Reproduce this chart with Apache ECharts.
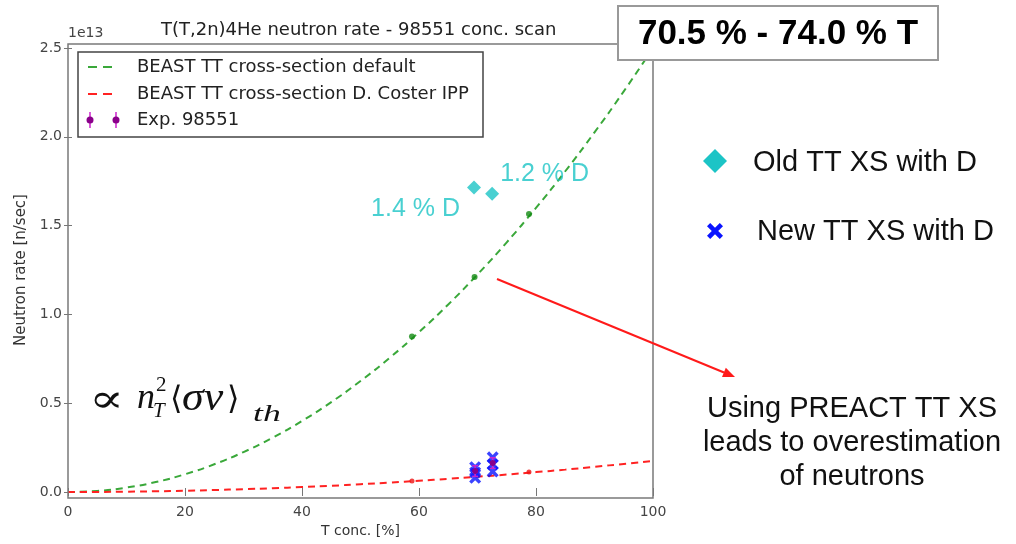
<!DOCTYPE html>
<html>
<head>
<meta charset="utf-8">
<script src="https://cdn.jsdelivr.net/npm/echarts@6/dist/echarts.min.js"></script>
<style>html,body{margin:0;padding:0;background:#fff}#c{width:1016px;height:544px}</style>
</head>
<body>
<div id="c"></div>
<script>
// ---- data (neutron rate in units of 1e13 n/sec, T concentration in %) ----
const curveX = [0,5,10,15,20,25,30,35,40,45,50,55,60,65,70,75,80,85,90,95,100];
const defaultXS = [0,0.006,0.025,0.056,0.10,0.156,0.225,0.306,0.40,0.506,0.625,0.756,0.90,1.056,1.225,1.406,1.60,1.806,2.025,2.256,2.50];
const costerXS = [0,0.0004,0.0018,0.004,0.007,0.011,0.016,0.021,0.028,0.035,0.044,0.053,0.063,0.074,0.086,0.098,0.112,0.126,0.142,0.158,0.175];
const defaultDotsX = [58.8, 69.5, 78.8];
const defaultDotsY = [0.875, 1.21, 1.565];
const costerDotsX = [58.8, 78.8];
const costerDotsY = [0.062, 0.112];
const expX = [69.6, 72.6];
const expY = [0.118, 0.163];
const expErr = [0.03, 0.03];
const oldXsX = [69.4, 72.5];
const oldXsY = [1.715, 1.68];
const oldXsLabels = ['1.4 % D', '1.2 % D'];
const newXsX = [69.6, 69.6, 69.6, 72.6, 72.6, 72.6];
const newXsY = [0.14, 0.11, 0.08, 0.195, 0.155, 0.115];
const xTicks = [0, 20, 40, 60, 80, 100];
const yTicks = [0, 0.5, 1.0, 1.5, 2.0, 2.5];
const titleText = 'T(T,2n)4He neutron rate - 98551 conc. scan';
const legendNames = ['BEAST TT cross-section default', 'BEAST TT cross-section D. Coster IPP', 'Exp. 98551'];

const zip = (a, b) => a.map((v, i) => [v, b[i]]);
const GREEN = '#3aa83a', RED = '#ff2222', CYAN = '#1cc4c6', BLUE = '#0a14ff', MAG = '#cc22cc';
const XPTS = [[2,0],[5,3],[8,0],[10,2],[7,5],[10,8],[8,10],[5,7],[2,10],[0,8],[3,5],[0,2]];
const XPATH = 'path://M' + XPTS.map(p => p[0] + ',' + p[1]).join(' L') + ' Z';
const sans = 'DejaVu Sans';
const arial = 'Liberation Sans, Arial';

const chart = echarts.init(document.getElementById('c'), null, {renderer: 'canvas'});

const axisCommon = {
  type: 'value', splitLine: {show: false},
  axisLine: {show: false},
  axisTick: {inside: true, length: 4, lineStyle: {color: '#777', width: 1}}
};

const option = {
  animation: false,
  backgroundColor: '#fff',
  title: {text: titleText, left: 161, top: 21, padding: 0,
    textStyle: {fontFamily: sans, fontSize: 18, fontWeight: 'normal', color: '#222'}},
  grid: {left: 68, right: 363, top: 48, bottom: 52},
  xAxis: [
    Object.assign({}, axisCommon, {min: 0, max: 100, interval: 20, position: 'bottom', offset: 6,
      name: 'T conc. [%]', nameLocation: 'middle', nameGap: 26,
      nameTextStyle: {fontFamily: sans, fontSize: 14, color: '#333'},
      axisLabel: {fontFamily: sans, fontSize: 14, color: '#444', margin: 7,
        formatter: v => xTicks.includes(v) ? String(v) : ''}}),
    Object.assign({}, axisCommon, {min: 0, max: 100, interval: 20, position: 'top', offset: 4,
      axisLabel: {show: false}})
  ],
  yAxis: [
    Object.assign({}, axisCommon, {min: 0, max: 2.5, interval: 0.5, position: 'left',
      name: 'Neutron rate [n/sec]', nameLocation: 'middle', nameGap: 30,
      nameTextStyle: {fontFamily: sans, fontSize: 15, color: '#333'},
      axisLabel: {fontFamily: sans, fontSize: 14, color: '#444', margin: 6,
        formatter: v => yTicks.some(t => Math.abs(t - v) < 1e-9) ? v.toFixed(1) : ''}}),
    Object.assign({}, axisCommon, {min: 0, max: 2.5, interval: 0.5, position: 'right',
      axisLabel: {show: false}})
  ],
  series: [
    {name: legendNames[0], type: 'line', smooth: true, symbol: 'none', data: zip(curveX, defaultXS),
      lineStyle: {color: GREEN, width: 2, type: [7, 5]}, z: 3},
    {name: legendNames[1], type: 'line', smooth: true, symbol: 'none', data: zip(curveX, costerXS),
      lineStyle: {color: RED, width: 2, type: [7, 5]}, z: 3},
    {type: 'scatter', symbol: 'circle', symbolSize: 6, data: zip(defaultDotsX, defaultDotsY),
      itemStyle: {color: '#138a13'}, z: 4},
    {type: 'scatter', symbol: 'circle', symbolSize: 5, data: zip(costerDotsX, costerDotsY),
      itemStyle: {color: '#ee1111'}, z: 4},
    {name: 'Old TT XS with D', type: 'scatter', symbol: 'diamond', symbolSize: 14,
      data: oldXsX.map((x, i) => ({value: [x, oldXsY[i]],
        label: {show: true, formatter: oldXsLabels[i],
          position: i === 0 ? 'left' : 'right', offset: i === 0 ? [-2, 22] : [-4, -20],
          fontFamily: arial, fontSize: 25, color: CYAN}})),
      itemStyle: {color: CYAN}, z: 5},
    {name: 'New TT XS with D', type: 'scatter', symbol: XPATH, symbolSize: 12,
      data: zip(newXsX, newXsY), itemStyle: {color: BLUE}, z: 5},
    {name: legendNames[2], type: 'custom', z: 6,
      data: expX.map((x, i) => [x, expY[i], expErr[i]]),
      encode: {x: 0, y: 1},
      renderItem: function (params, api) {
        const x = api.value(0), y = api.value(1), e = api.value(2);
        const c = api.coord([x, y]);
        const t = api.coord([x, y + e]);
        const b = api.coord([x, y - e]);
        return {type: 'group', children: [
          {type: 'line', shape: {x1: t[0], y1: t[1], x2: b[0], y2: b[1]}, style: {stroke: MAG, lineWidth: 1.5}},
          {type: 'line', shape: {x1: t[0] - 3, y1: t[1], x2: t[0] + 3, y2: t[1]}, style: {stroke: MAG, lineWidth: 1.5}},
          {type: 'line', shape: {x1: b[0] - 3, y1: b[1], x2: b[0] + 3, y2: b[1]}, style: {stroke: MAG, lineWidth: 1.5}},
          {type: 'circle', shape: {cx: c[0], cy: c[1], r: 3}, style: {fill: '#8a008a'}}
        ]};
      }}
  ],
  graphic: [
    // plot frame
    {type: 'rect', z: 50, silent: true, shape: {x: 68, y: 44, width: 585, height: 454},
      style: {fill: null, stroke: '#7a7a7a', lineWidth: 1.5}},
    {type: 'text', z: 50, x: 68, y: 33, style: {text: '1e13', font: '14px DejaVu Sans', fill: '#444', verticalAlign: 'middle'}},
    // inner legend
    {type: 'rect', z: 60, shape: {x: 78, y: 52, width: 405, height: 85},
      style: {fill: '#fff', stroke: '#444', lineWidth: 1.5}},
    {type: 'line', z: 61, shape: {x1: 88, y1: 67, x2: 112, y2: 67}, style: {stroke: GREEN, lineWidth: 2, lineDash: [9, 6]}},
    {type: 'line', z: 61, shape: {x1: 88, y1: 94, x2: 112, y2: 94}, style: {stroke: RED, lineWidth: 2, lineDash: [9, 6]}},
    {type: 'line', z: 61, shape: {x1: 90, y1: 112, x2: 90, y2: 128}, style: {stroke: MAG, lineWidth: 1.5}},
    {type: 'line', z: 61, shape: {x1: 116, y1: 112, x2: 116, y2: 128}, style: {stroke: MAG, lineWidth: 1.5}},
    {type: 'circle', z: 62, shape: {cx: 90, cy: 120, r: 3.5}, style: {fill: '#8a008a'}},
    {type: 'circle', z: 62, shape: {cx: 116, cy: 120, r: 3.5}, style: {fill: '#8a008a'}},
    {type: 'text', z: 61, x: 137, y: 67, style: {text: legendNames[0], font: '18px DejaVu Sans', fill: '#222', verticalAlign: 'middle'}},
    {type: 'text', z: 61, x: 137, y: 94, style: {text: legendNames[1], font: '18px DejaVu Sans', fill: '#222', verticalAlign: 'middle'}},
    {type: 'text', z: 61, x: 137, y: 120, style: {text: legendNames[2], font: '18px DejaVu Sans', fill: '#222', verticalAlign: 'middle'}},
    // top-right box
    {type: 'rect', z: 100, shape: {x: 618, y: 6, width: 320, height: 54},
      style: {fill: '#fff', stroke: '#999', lineWidth: 2}},
    {type: 'text', z: 101, x: 778, y: 34, style: {text: '70.5 % - 74.0 % T', font: 'bold 35px Liberation Sans', fill: '#000', align: 'center', verticalAlign: 'middle'}},
    // right legend
    {type: 'polygon', z: 100, shape: {points: [[715, 149], [727, 161], [715, 173], [703, 161]]}, style: {fill: CYAN}},
    {type: 'polygon', z: 100, shape: {points: XPTS.map(p => [707 + p[0] * 1.6, 223 + p[1] * 1.6])}, style: {fill: BLUE}},
    {type: 'text', z: 100, x: 753, y: 163, style: {text: 'Old TT XS with D', font: '29px Liberation Sans', fill: '#111', verticalAlign: 'middle'}},
    {type: 'text', z: 100, x: 757, y: 232, style: {text: 'New TT XS with D', font: '29px Liberation Sans', fill: '#111', verticalAlign: 'middle'}},
    // arrow
    {type: 'line', z: 100, shape: {x1: 497, y1: 279, x2: 724, y2: 372.5}, style: {stroke: '#ff1a1a', lineWidth: 2}},
    {type: 'polygon', z: 100, shape: {points: [[735, 377], [722, 377], [725.8, 367.8]]}, style: {fill: '#ff1a1a'}},
    // annotation
    {type: 'text', z: 100, x: 852, y: 392, style: {text: 'Using PREACT TT XS\nleads to overestimation\nof neutrons',
      font: '29px Liberation Sans', lineHeight: 34, fill: '#111', align: 'center', verticalAlign: 'top'}},
    // formula  ∝ n_T^2 <σv>_th
    {type: 'text', z: 100, x: 89, y: 402, scaleX: 1.3, style: {text: '\u221D', font: '40px DejaVu Serif', fill: '#111', verticalAlign: 'middle'}},
    {type: 'text', z: 100, x: 137, y: 399, style: {text: 'n', font: 'italic 36px Liberation Serif', fill: '#111', verticalAlign: 'middle'}},
    {type: 'text', z: 100, x: 156, y: 385, style: {text: '2', font: '21px Liberation Serif', fill: '#111', verticalAlign: 'middle'}},
    {type: 'text', z: 100, x: 153, y: 411, style: {text: 'T', font: 'italic 21px Liberation Serif', fill: '#111', verticalAlign: 'middle'}},
    {type: 'text', z: 100, x: 170, y: 401, style: {text: '\u27E8', font: '32px DejaVu Serif', fill: '#111', verticalAlign: 'middle'}},
    {type: 'text', z: 100, x: 182, y: 399, scaleX: 1.1, style: {text: '\u03C3v', font: 'italic 40px Liberation Serif', fill: '#111', verticalAlign: 'middle'}},
    {type: 'text', z: 100, x: 227, y: 401, style: {text: '\u27E9', font: '32px DejaVu Serif', fill: '#111', verticalAlign: 'middle'}},
    {type: 'text', z: 100, x: 253, y: 415, scaleX: 1.55, style: {text: 'th', font: 'italic 23px Liberation Serif', fill: '#111', verticalAlign: 'middle'}}
  ]
};
chart.setOption(option);
</script>
</body>
</html>
